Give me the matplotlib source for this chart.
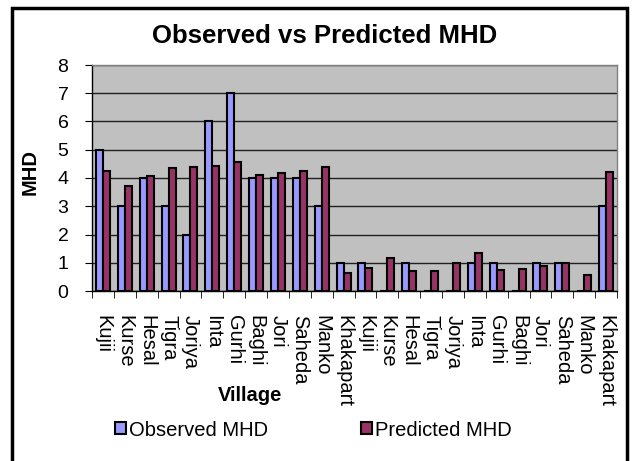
import matplotlib
matplotlib.use('Agg')
import matplotlib.pyplot as plt
import numpy as np
from matplotlib.patches import Rectangle

plt.rcParams['font.family'] = ['Liberation Sans', 'DejaVu Sans']

villages = ['Kujii', 'Kurse', 'Hesal', 'Tigra', 'Joriya', 'Inta', 'Gurhi', 'Baghi',
            'Jori', 'Saheda', 'Manko', 'Khakapart',
            'Kujii', 'Kurse', 'Hesal', 'Tigra', 'Joriya', 'Inta', 'Gurhi', 'Baghi',
            'Jori', 'Saheda', 'Manko', 'Khakapart']
observed = [5, 3, 4, 3, 2, 6, 7, 4, 4, 4, 3, 1,
            1, 0, 1, 0, 0, 1, 1, 0, 1, 1, 0, 3]
predicted = [4.24, 3.73, 4.07, 4.34, 4.38, 4.44, 4.57, 4.11, 4.18, 4.25, 4.38, 0.65,
             0.83, 1.18, 0.70, 0.71, 0.98, 1.35, 0.76, 0.77, 0.87, 1.0, 0.58, 4.23]

fig = plt.figure(figsize=(6.32, 4.61), dpi=100)
ax = fig.add_axes([92/632, 1 - 291/461, (617-92)/632, (291-65)/461])

x = np.arange(len(villages))
w = 0.32
b1 = ax.bar(x - w/2, observed, w, color='#9999FF', edgecolor='black', linewidth=1.5,
            label='Observed MHD', zorder=3)
b2 = ax.bar(x + w/2, predicted, w, color='#993366', edgecolor='black', linewidth=1.5,
            label='Predicted MHD', zorder=3)

ax.set_facecolor('#C0C0C0')
ax.set_xlim(-0.5, len(villages) - 0.5)
ax.set_ylim(0, 8)
ax.set_yticks(range(0, 9))
ax.yaxis.grid(True, color='#202020', linewidth=1, zorder=0)
for s in ax.spines.values():
    s.set_color('#808080')
    s.set_linewidth(1)
ax.spines['left'].set_color('black')
ax.spines['bottom'].set_color('black')

ax.set_xticks(x)
ax.set_xticklabels(villages, rotation=-90, fontsize=14.5, va='top', ha='center')
ax.tick_params(axis='x', which='major', length=0, pad=17)
ax.set_xticks(np.arange(-0.5, len(villages)), minor=True)
ax.tick_params(axis='x', which='minor', length=5, color='black')
ax.tick_params(axis='y', labelsize=14, length=5, direction='out', pad=12)

fig.text(325/632, 1 - 36/461, 'Observed vs Predicted MHD', fontsize=18.5,
         fontweight='bold', ha='center', va='center')
fig.text(30/632, 1 - 172/461, 'MHD', fontsize=14.5, fontweight='bold',
         rotation=90, ha='center', va='center')
fig.text(250/632, 1 - 395/461, 'Village', fontsize=14.5, fontweight='bold',
         ha='center', va='center')

fig.legend(handles=[b1, b2], loc='center', bbox_to_anchor=(313/632, 1 - 430/461),
           ncol=2, frameon=False, fontsize=14.5, handlelength=0.55, handleheight=0.55,
           handletextpad=0.15, columnspacing=4.6)

fig.patches.append(Rectangle((12/632, -0.05), (627-12)/632, 1.05 - 8/461,
                             transform=fig.transFigure, fill=False,
                             edgecolor='black', linewidth=2.5))

fig.savefig('out.png', dpi=100)
